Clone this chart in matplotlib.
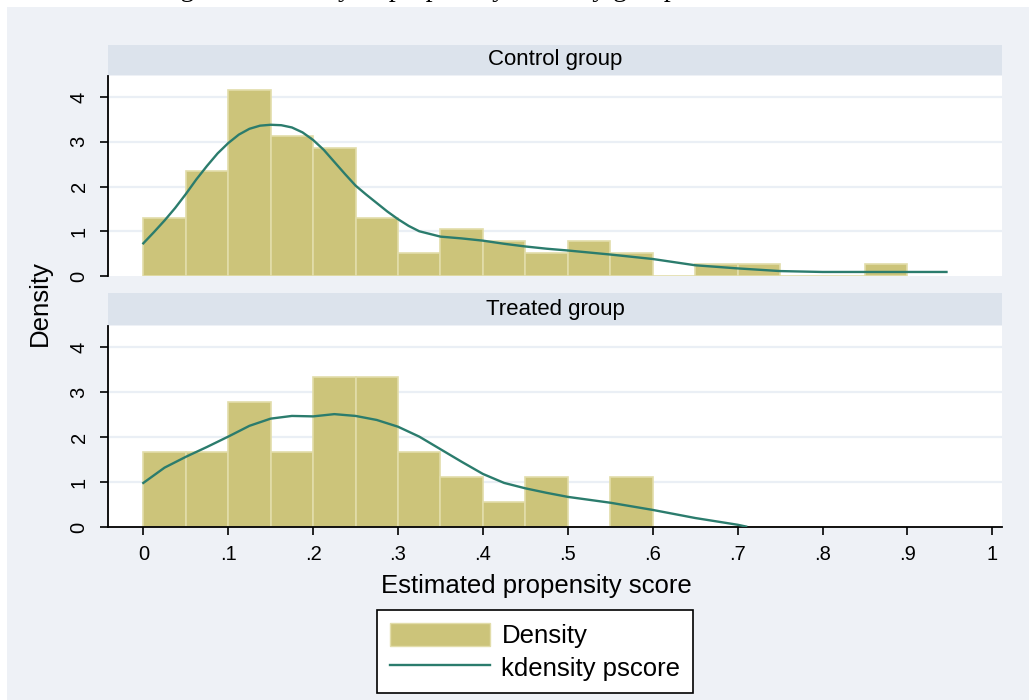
import numpy as np
import matplotlib.pyplot as plt
from matplotlib.patches import Rectangle, Patch
from matplotlib.lines import Line2D

W, H = 1029, 700

caption = "Figure 2: Density of propensity score by group"

bin_left = [0.0, 0.05, 0.10, 0.15, 0.20, 0.25, 0.30, 0.35, 0.40, 0.45,
            0.50, 0.55, 0.60, 0.65, 0.70, 0.75, 0.80, 0.85]
bin_width = 0.05

control_density = [1.30, 2.34, 4.16, 3.12, 2.86, 1.30, 0.52, 1.04, 0.78, 0.52,
                   0.78, 0.52, 0.0, 0.26, 0.26, 0.0, 0.0, 0.26]
treated_density = [1.67, 1.67, 2.78, 1.67, 3.33, 3.33, 1.67, 1.11, 0.56, 1.11,
                   0.0, 1.11, 0.0, 0.0, 0.0, 0.0, 0.0, 0.0]

control_kx = [0.0, 0.0125, 0.025, 0.0375, 0.05, 0.0625, 0.075, 0.0875, 0.10,
              0.1125, 0.125, 0.1375, 0.15, 0.1625, 0.175, 0.1875, 0.20, 0.2125,
              0.225, 0.2375, 0.25, 0.2625, 0.275, 0.2875, 0.30, 0.3125, 0.325,
              0.35, 0.375, 0.40, 0.425, 0.45, 0.475, 0.50, 0.55, 0.60,
              0.65, 0.70, 0.75, 0.80, 0.85, 0.90, 0.946]
control_ky = [0.73, 0.98, 1.24, 1.52, 1.83, 2.16, 2.46, 2.74, 2.97,
              3.16, 3.29, 3.36, 3.38, 3.37, 3.32, 3.21, 3.04, 2.82,
              2.55, 2.28, 2.02, 1.82, 1.63, 1.44, 1.27, 1.12, 1.00,
              0.88, 0.84, 0.79, 0.72, 0.66, 0.61, 0.57, 0.48, 0.38,
              0.24, 0.17, 0.11, 0.09, 0.09, 0.09, 0.09]

treated_kx = [0.0, 0.025, 0.05, 0.075, 0.10, 0.125, 0.15, 0.175, 0.20, 0.225,
              0.25, 0.275, 0.30, 0.325, 0.35, 0.375, 0.40, 0.425, 0.45, 0.475,
              0.50, 0.55, 0.60, 0.65, 0.70, 0.71]
treated_ky = [0.98, 1.32, 1.56, 1.78, 2.01, 2.25, 2.41, 2.47, 2.46, 2.51,
              2.47, 2.38, 2.23, 2.01, 1.73, 1.45, 1.18, 0.98, 0.86, 0.76,
              0.67, 0.54, 0.38, 0.20, 0.05, 0.01]

panel_titles = ["Control group", "Treated group"]
xticks = [0, .1, .2, .3, .4, .5, .6, .7, .8, .9, 1]
xtick_labels = ["0", ".1", ".2", ".3", ".4", ".5", ".6", ".7", ".8", ".9", "1"]
yticks = [0, 1, 2, 3, 4]

bar_color = "#CCC47A"
bar_edge = "#E2DDAA"
line_color = "#2B7C6D"
bg_color = "#EEF1F6"
strip_color = "#DCE3EC"
grid_color = "#EAEFF5"

plt.rcParams['font.family'] = ['Liberation Sans', 'DejaVu Sans']

fig = plt.figure(figsize=(W / 100, H / 100), dpi=100)
fig.patch.set_facecolor("white")
fig.patches.append(Rectangle((7 / W, 0), 1, 1 - 7 / H, transform=fig.transFigure,
                             facecolor=bg_color, edgecolor="none", zorder=-10))

# caption of the page, only its descenders show at the top edge
fig.text(157 / W, 1 + 4.5 / H, caption, fontsize=20, family='Liberation Serif',
         va='baseline', ha='left')


def px_rect(x0, y0, x1, y1):
    return [x0 / W, 1 - y1 / H, (x1 - x0) / W, (y1 - y0) / H]


panels = [
    (control_density, control_kx, control_ky, 45, 76, 276),
    (treated_density, treated_kx, treated_ky, 293, 326, 527),
]

for i, (dens, kx, ky, strip_top, top, bottom) in enumerate(panels):
    # strip header
    sax = fig.add_axes(px_rect(108, strip_top, 1002, top - 1))
    sax.set_facecolor(strip_color)
    sax.set_xticks([])
    sax.set_yticks([])
    for s in sax.spines.values():
        s.set_visible(False)
    sax.text(0.5, 0.5, panel_titles[i], ha='center', va='center', fontsize=16,
             transform=sax.transAxes)

    ax = fig.add_axes(px_rect(108, top, 1002, bottom))
    ax.set_facecolor("white")
    ax.bar(bin_left, dens, width=bin_width, align='edge', color=bar_color,
           edgecolor=bar_edge, linewidth=1.2, zorder=2)
    ax.plot(kx, ky, color=line_color, lw=1.7, zorder=3)
    ax.set_xlim(-0.0416, 1.0114)
    ax.set_ylim(0, 4.47)
    ax.set_yticks(yticks)
    ax.set_yticklabels([str(v) for v in yticks], rotation=90, va='center',
                       fontsize=14.5)
    ax.tick_params(axis='y', length=6, width=1.2, pad=8)
    for v in yticks[1:]:
        ax.axhline(v, color=grid_color, lw=1.6, zorder=1)
    ax.spines['top'].set_visible(False)
    ax.spines['right'].set_visible(False)
    ax.spines['left'].set_linewidth(1.3)
    if i == 0:
        ax.spines['bottom'].set_visible(False)
        ax.set_xticks([])
    else:
        ax.spines['bottom'].set_linewidth(1.3)
        ax.set_xticks(xticks)
        ax.set_xticklabels(xtick_labels, fontsize=14.5)
        ax.tick_params(axis='x', length=6, width=1.2, pad=7)

fig.text(536 / W, 1 - 586 / H, "Estimated propensity score", ha='center',
         va='center', fontsize=18.5)
fig.text(40 / W, 1 - 303 / H, "Density", rotation=90, ha='center', va='center',
         fontsize=18.5)

handles = [Patch(facecolor=bar_color, edgecolor=bar_edge),
           Line2D([0], [0], color=line_color, lw=1.7)]
leg = fig.legend(handles, ["Density", "kdensity pscore"], loc='upper center',
                 bbox_to_anchor=(535 / W, 1 - 610 / H), fontsize=18.5,
                 frameon=True, fancybox=False, edgecolor='black', framealpha=1,
                 handlelength=3.9, handleheight=1.0, borderpad=0.5,
                 labelspacing=0.28, handletextpad=0.45, borderaxespad=0)
leg.get_frame().set_linewidth(1.2)

fig.savefig("out.png", dpi=100)
